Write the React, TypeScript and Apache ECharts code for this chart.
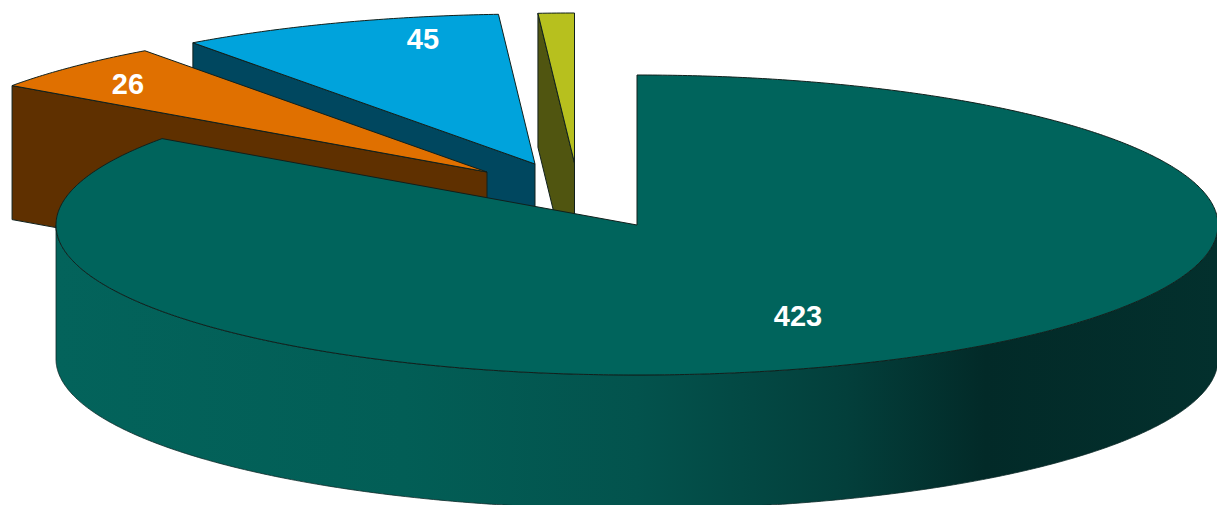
import React, { useEffect, useRef } from "react";
import * as echarts from "echarts";

// Data
const sliceValues = [423, 26, 45, 5];
const sliceLabels = ["423", "26", "45", ""];

// Styles
const topColors = ["#00645c", "#e07000", "#00a3dc", "#b7c01e"];
const cutColors = ["#00645c", "#5f3000", "#00475f", "#505510"];

// Layout of the exploded slices (pie apex of each slice, label centre)
const apexX = [637, 487, 535, 574.5];
const apexY = [225, 172, 164, 163];
const labelX = [798, 128, 423, 0];
const labelY = [316, 84, 39, 0];
const RX = 581;
const RY = 150;
const DEPTH = 134;

const total = sliceValues.reduce((a, b) => a + b, 0);
const toRad = (d: number) => (d * Math.PI) / 180;

function rimPoint(cx: number, cy: number, deg: number, dy = 0): number[] {
  const t = toRad(deg);
  return [cx + RX * Math.sin(t), cy - RY * Math.cos(t) + dy];
}

function arcPoints(cx: number, cy: number, from: number, to: number, dy = 0): number[][] {
  const pts: number[][] = [];
  const steps = Math.max(2, Math.ceil(Math.abs(to - from) * 2));
  for (let i = 0; i <= steps; i++) {
    pts.push(rimPoint(cx, cy, from + ((to - from) * i) / steps, dy));
  }
  return pts;
}

const wallGradient = () =>
  new echarts.graphic.LinearGradient(0, 0, 1, 0, [
    { offset: 0, color: "#03635b" },
    { offset: 0.3, color: "#025e56" },
    { offset: 0.5, color: "#03534d" },
    { offset: 0.68, color: "#033f3b" },
    { offset: 0.8, color: "#022a28" },
    { offset: 1, color: "#03302d" },
  ]);

function renderItem(_params: any, api: any) {
  const value = api.value(0) as number;
  const idx = api.value(1) as number;
  let before = 0;
  for (let i = 0; i < idx; i++) before += sliceValues[i];
  const start = (before / total) * 360;
  const end = ((before + value) / total) * 360;
  const cx = apexX[idx];
  const cy = apexY[idx];
  const children: any[] = [];
  const edge = { stroke: "#10201c", lineWidth: 1, lineJoin: "round" };

  // Cut face on the starting side, when it faces the viewer
  if (Math.sin(toRad(start)) < -0.001) {
    const a = rimPoint(cx, cy, start);
    const b = rimPoint(cx, cy, start, DEPTH);
    children.push({
      type: "polygon",
      shape: { points: [[cx, cy], a, b, [cx, cy + DEPTH]] },
      style: { fill: cutColors[idx], ...edge },
    });
  }

  // Outer rim, front half only
  const rimFrom = Math.max(start, 90);
  const rimTo = Math.min(end, 270);
  if (rimTo > rimFrom) {
    children.push({
      type: "polygon",
      shape: {
        points: [
          ...arcPoints(cx, cy, rimFrom, rimTo),
          ...arcPoints(cx, cy, rimTo, rimFrom, DEPTH),
        ],
      },
      style: { fill: wallGradient(), stroke: "#0c2a28", lineWidth: 0.8 },
    });
  }

  // Top face
  children.push({
    type: "polygon",
    shape: { points: [[cx, cy], ...arcPoints(cx, cy, start, end)] },
    style: { fill: topColors[idx], ...edge },
  });

  if (sliceLabels[idx]) {
    children.push({
      type: "text",
      style: {
        text: sliceLabels[idx],
        x: labelX[idx],
        y: labelY[idx],
        fill: "#ffffff",
        font: 'bold 29px "Liberation Sans", Arial, sans-serif',
        align: "center",
        verticalAlign: "middle",
      },
    });
  }
  return { type: "group", children };
}

export default function App() {
  const ref = useRef<HTMLDivElement>(null);
  useEffect(() => {
    document.body.style.margin = "0";
    document.body.style.background = "#ffffff";
    const chart = echarts.init(ref.current!, undefined, { renderer: "svg" });
    chart.setOption({
      animation: false,
      backgroundColor: "#ffffff",
      series: [
        {
          type: "custom",
          coordinateSystem: "none",
          silent: true,
          renderItem,
          // back slices first, so the large slice lies over the exploded ones
          data: sliceValues.map((v, i) => [v, i]).reverse(),
        },
      ],
    });
    return () => chart.dispose();
  }, []);
  return <div ref={ref} style={{ width: 1217, height: 505 }} />;
}
